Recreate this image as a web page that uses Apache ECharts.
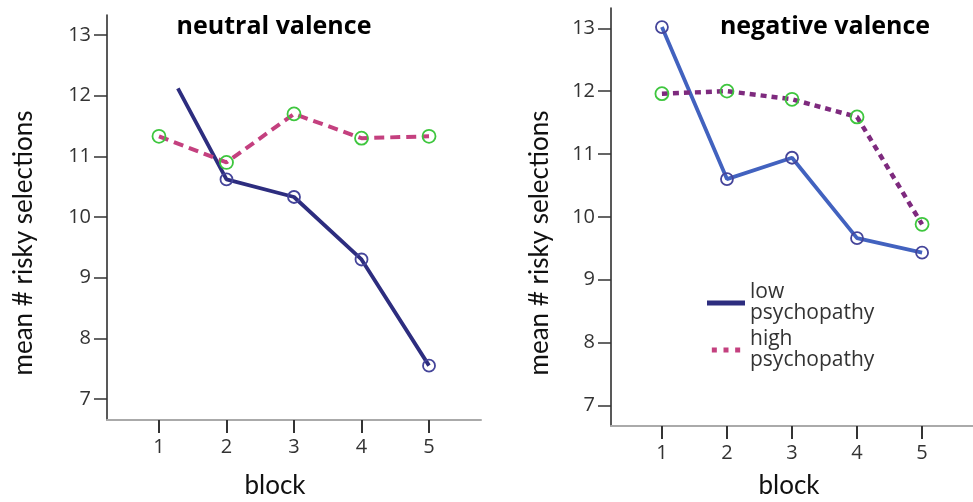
<!DOCTYPE html>
<html>
<head>
<meta charset="utf-8">
<script src="https://cdn.jsdelivr.net/npm/echarts@6/dist/echarts.min.js"></script>
<style>
html,body{margin:0;padding:0;background:#fff;}
#chart{width:973px;height:502px;}
</style>
</head>
<body>
<div id="chart"></div>
<script>
// ---- data ----
var blocks = [1, 2, 3, 4, 5];
var yTicks = [7, 8, 9, 10, 11, 12, 13];
var panelTitles = ['neutral valence', 'negative valence'];
var seriesNames = ['low psychopathy', 'high psychopathy'];
// neutral valence: the low-psychopathy line is only visible from about block 1.28 downward
var neutralLowVisibleStart = [1.28, 12.12];
var neutralLow = [null, 10.62, 10.33, 9.30, 7.55];
var neutralHigh = [11.33, 10.90, 11.70, 11.30, 11.33];
var negativeLow = [13.02, 10.60, 10.94, 9.66, 9.43];
var negativeHigh = [11.96, 12.00, 11.87, 11.59, 9.88];

function pairs(vals) {
  var out = [];
  for (var i = 0; i < blocks.length; i++) {
    if (vals[i] !== null) out.push([blocks[i], vals[i]]);
  }
  return out;
}

var neutralLowData = [{value: neutralLowVisibleStart, symbol: 'none'}].concat(pairs(neutralLow));

var chart = echarts.init(document.getElementById('chart'), null, {renderer: 'canvas'});

var tickFont = {fontFamily: 'Open Sans', fontSize: 20, color: '#333'};
function xAxis(idx, min, max) {
  return {
    type: 'value', gridIndex: idx, min: min, max: max,
    axisLine: {show: true, lineStyle: {color: '#aaaaaa', width: 2}},
    axisTick: {show: true, length: 13, lineStyle: {color: '#333', width: 2}, customValues: blocks},
    axisLabel: Object.assign({margin: 17, customValues: blocks}, tickFont),
    splitLine: {show: false}
  };
}
function yAxis(idx, min, max) {
  return {
    type: 'value', gridIndex: idx, min: min, max: max,
    axisLine: {show: true, lineStyle: {color: '#222', width: 1.5}},
    axisTick: {show: true, length: 13, lineStyle: {color: '#333', width: 1.5}, customValues: yTicks},
    axisLabel: Object.assign({margin: 16, customValues: yTicks}, tickFont),
    splitLine: {show: false}
  };
}

var navy = '#2d2d7f', pink = '#c4407f', blue = '#4262bf', purple = '#7e2a7e', green = '#3ec63e', markNavy = '#45459a';

function lineSeries(name, xi, data, lineColor, lineType, lineWidth, markColor, markSize) {
  return {
    name: name, type: 'line', xAxisIndex: xi, yAxisIndex: xi, data: data,
    symbol: 'circle', symbolSize: markSize, showAllSymbol: true,
    lineStyle: {color: lineColor, type: lineType, width: lineWidth},
    itemStyle: {color: 'rgba(0,0,0,0)', borderColor: markColor, borderWidth: 1.8},
    emphasis: {disabled: true}, animation: false, z: 3
  };
}

var nameFont = {fontFamily: 'Lato', fontSize: 26, fill: '#111', align: 'center', verticalAlign: 'middle'};
var titleFont = {fontFamily: 'Open Sans', fontWeight: 'bold', fontSize: 25, fill: '#000', align: 'center', verticalAlign: 'middle'};

var option = {
  backgroundColor: '#ffffff',
  animation: false,
  grid: [
    {left: 107, top: 15, width: 374, height: 405},
    {left: 611, top: 8, width: 386, height: 418}
  ],
  xAxis: [xAxis(0, 0.23, 5.77), xAxis(1, 0.217, 5.783)],
  yAxis: [yAxis(0, 6.654, 13.33), yAxis(1, 6.671, 13.323)],
  legend: {
    orient: 'vertical', left: 702, top: 277, itemWidth: 38, itemHeight: 5, itemGap: 5,
    selectedMode: false,
    formatter: function (n) { return n.replace(' ', '\n'); },
    textStyle: {fontFamily: 'Open Sans', fontSize: 21, color: '#333', lineHeight: 21},
    data: [
      {name: seriesNames[0], icon: 'path://M0,0H38V5H0Z', itemStyle: {color: navy, borderWidth: 0}},
      {name: seriesNames[1], icon: 'path://M0,0H6V6H0Z M14,0H20V6H14Z M28,0H34V6H28Z', itemStyle: {color: pink, borderWidth: 0}}
    ]
  },
  series: [
    lineSeries(seriesNames[0], 0, neutralLowData, navy, 'solid', 3.8, markNavy, 12),
    lineSeries(seriesNames[1], 0, pairs(neutralHigh), pink, [10, 6], 4, green, 13),
    lineSeries(seriesNames[0], 1, pairs(negativeLow), blue, 'solid', 3.8, markNavy, 12),
    lineSeries(seriesNames[1], 1, pairs(negativeHigh), purple, [6, 5], 4.5, green, 13)
  ],
  graphic: [
    {type: 'text', x: 274, y: 27, style: Object.assign({text: panelTitles[0]}, titleFont)},
    {type: 'text', x: 825, y: 27, style: Object.assign({text: panelTitles[1]}, titleFont)},
    {type: 'text', x: 24, y: 243, rotation: Math.PI / 2, style: Object.assign({text: 'mean # risky selections'}, nameFont)},
    {type: 'text', x: 540, y: 243, rotation: Math.PI / 2, style: Object.assign({text: 'mean # risky selections'}, nameFont)},
    {type: 'text', x: 275, y: 486, style: Object.assign({text: 'block'}, nameFont)},
    {type: 'text', x: 789, y: 486, style: Object.assign({text: 'block'}, nameFont)}
  ]
};
chart.setOption(option);
</script>
</body>
</html>
